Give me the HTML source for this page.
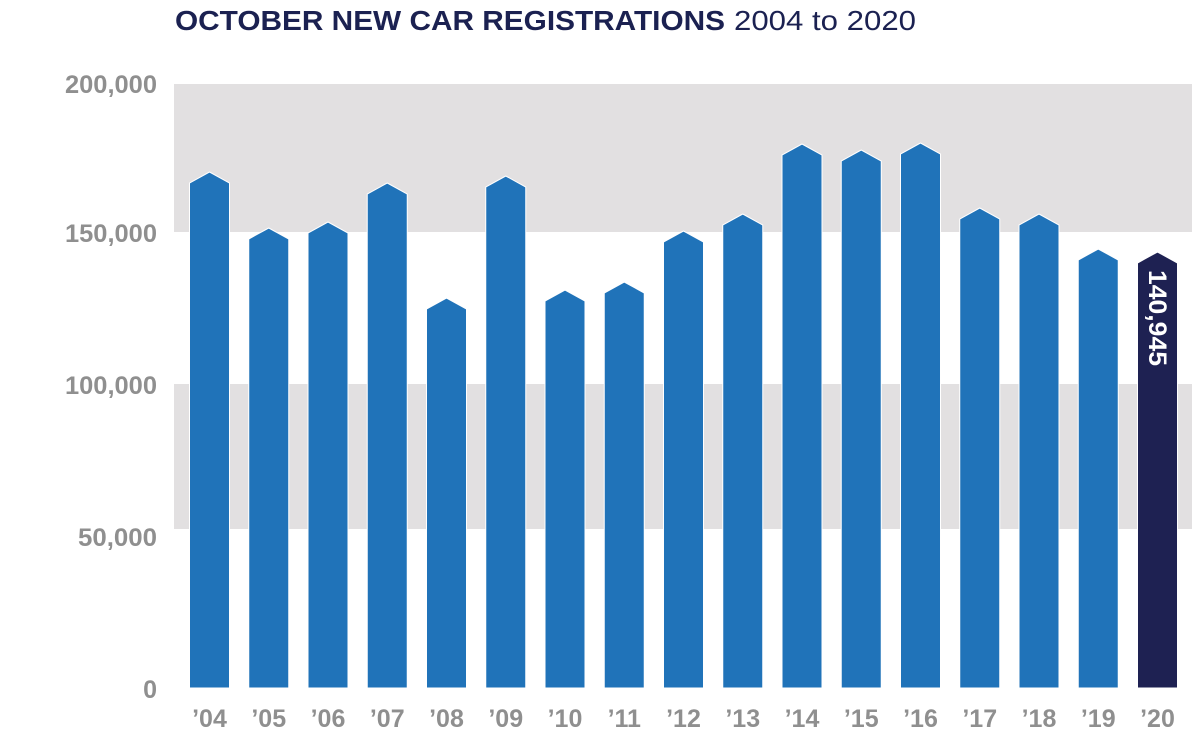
<!DOCTYPE html>
<html><head><meta charset="utf-8"><style>
body{margin:0;background:#fff;}
svg text{font-family:"Liberation Sans",sans-serif;}
</style></head><body>
<svg width="1200" height="745" viewBox="0 0 1200 745" xmlns="http://www.w3.org/2000/svg">
<text x="175" y="30" font-size="28" font-weight="bold" fill="#1b2151" textLength="550" lengthAdjust="spacingAndGlyphs">OCTOBER NEW CAR REGISTRATIONS</text>
<text x="734" y="30" font-size="28" fill="#1b2151" textLength="182" lengthAdjust="spacingAndGlyphs">2004 to 2020</text>
<rect x="174" y="84" width="1018" height="148" fill="#e2e0e1"/>
<rect x="174" y="384" width="1018" height="145" fill="#e2e0e1"/>
<g font-size="25" font-weight="bold" fill="#8f8f8f" text-anchor="end">
<text x="157" y="93" textLength="92" lengthAdjust="spacingAndGlyphs">200,000</text>
<text x="157" y="242" textLength="92" lengthAdjust="spacingAndGlyphs">150,000</text>
<text x="157" y="394" textLength="92" lengthAdjust="spacingAndGlyphs">100,000</text>
<text x="157" y="546" textLength="79" lengthAdjust="spacingAndGlyphs">50,000</text>
<text x="157" y="698">0</text>
</g>
<g id="bars" stroke="#fff" stroke-width="1"></g>
<g id="labels" font-size="25" font-weight="bold" fill="#8f8f8f" text-anchor="middle"></g>
<script>
var tops=[172,228,222,183,298,176,290,282,231,214,144,150,143,208,214,249,252];
var yrs=["04","05","06","07","08","09","10","11","12","13","14","15","16","17","18","19","20"];
var g=document.getElementById('bars'),l=document.getElementById('labels');
var ns="http://www.w3.org/2000/svg";
for(var i=0;i<17;i++){
 var x=189.5+i*59.25,w=40,t=tops[i],s=t+11;
 var p=document.createElementNS(ns,'polygon');
 p.setAttribute('points',x+','+688+' '+x+','+s+' '+(x+w/2)+','+t+' '+(x+w)+','+s+' '+(x+w)+','+688);
 p.setAttribute('fill',i==16?'#1e2152':'#2073b9');
 g.appendChild(p);
 var tx=document.createElementNS(ns,'text');
 tx.setAttribute('x',x+w/2);tx.setAttribute('y',727);
 tx.textContent='\u2019'+yrs[i];l.appendChild(tx);
}
</script>
<text transform="translate(1149,270) rotate(90)" font-size="25" font-weight="bold" fill="#fff" textLength="96" lengthAdjust="spacingAndGlyphs">140,945</text>
</svg>
</body></html>
